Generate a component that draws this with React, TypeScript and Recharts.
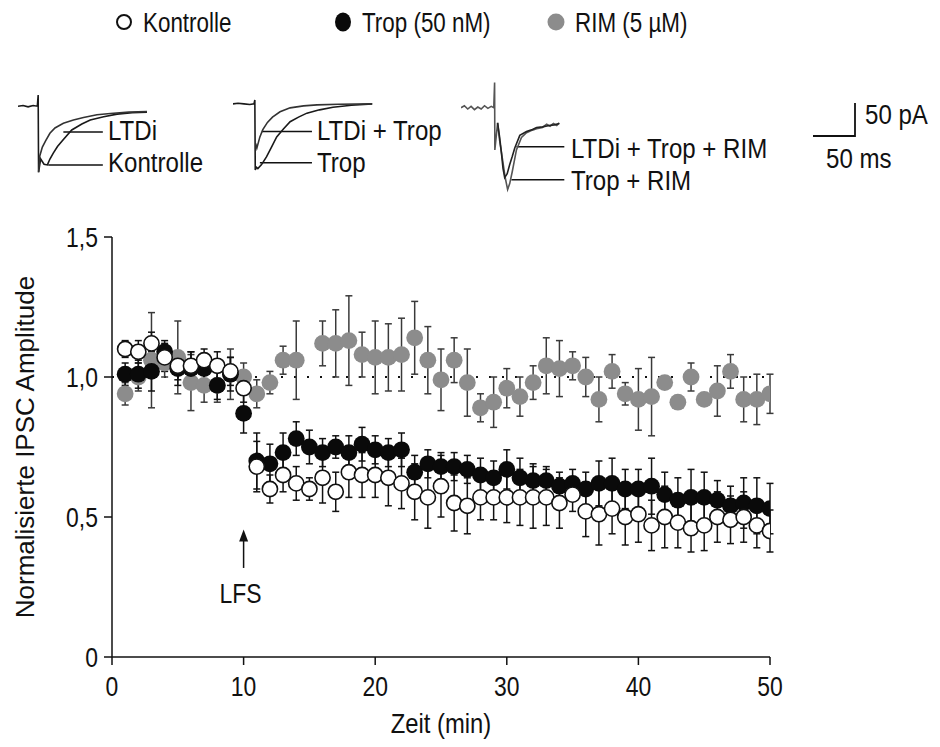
import React from 'react';
import { ScatterChart, Scatter, XAxis, YAxis, ErrorBar, ReferenceLine, Label, LineChart, Line } from 'recharts';

const FONT = '"Liberation Sans", Arial, Helvetica, sans-serif';
const INK = '#111111';
const GREY = '#8c8c8c';

// time points (min)
const minutes = [
  1, 2, 3, 4, 5, 6, 7, 8, 9, 10, 11, 12, 13, 14, 15, 16, 17, 18, 19, 20, 21, 22, 23, 24, 25,
  26, 27, 28, 29, 30, 31, 32, 33, 34, 35, 36, 37, 38, 39, 40, 41, 42, 43, 44, 45, 46, 47, 48, 49, 50,
];

// normalised IPSC amplitude, mean and SEM
const kontrolle = [
  1.10, 1.09, 1.12, 1.07, 1.04, 1.04, 1.06, 1.04, 1.02, 0.96, 0.68, 0.60, 0.65, 0.62, 0.60, 0.64, 0.59, 0.66, 0.65, 0.65, 0.64, 0.62, 0.59, 0.57, 0.61,
  0.55, 0.54, 0.57, 0.57, 0.57, 0.57, 0.57, 0.57, 0.55, 0.58, 0.52, 0.51, 0.53, 0.50, 0.51, 0.47, 0.50, 0.48, 0.46, 0.47, 0.50, 0.49, 0.50, 0.47, 0.45,
];
const kontrolleSem = [
  0.03, 0.04, 0.04, 0.05, 0.05, 0.05, 0.04, 0.05, 0.05, 0.05, 0.09, 0.05, 0.06, 0.06, 0.04, 0.09, 0.07, 0.09, 0.08, 0.08, 0.10, 0.09, 0.10, 0.11, 0.11,
  0.10, 0.10, 0.08, 0.08, 0.09, 0.10, 0.11, 0.10, 0.09, 0.06, 0.09, 0.11, 0.09, 0.10, 0.10, 0.09, 0.11, 0.09, 0.085, 0.09, 0.09, 0.085, 0.09, 0.08, 0.075,
];
const trop = [
  1.01, 1.01, 1.02, 1.09, 1.03, 1.03, 1.03, 0.97, 1.01, 0.87, 0.70, 0.69, 0.73, 0.78, 0.75, 0.73, 0.75, 0.73, 0.76, 0.74, 0.73, 0.74, 0.66, 0.69, 0.68,
  0.68, 0.67, 0.65, 0.64, 0.67, 0.64, 0.63, 0.63, 0.61, 0.62, 0.60, 0.62, 0.62, 0.60, 0.60, 0.61, 0.58, 0.56, 0.57, 0.57, 0.56, 0.54, 0.55, 0.54, 0.53,
];
const tropSem = [
  0.04, 0.05, 0.07, 0.04, 0.06, 0.06, 0.05, 0.05, 0.06, 0.07, 0.10, 0.07, 0.07, 0.06, 0.06, 0.05, 0.04, 0.06, 0.06, 0.05, 0.05, 0.06, 0.06, 0.05, 0.05,
  0.05, 0.05, 0.06, 0.06, 0.07, 0.07, 0.06, 0.05, 0.05, 0.05, 0.06, 0.08, 0.09, 0.07, 0.07, 0.10, 0.08, 0.08, 0.10, 0.09, 0.07, 0.07, 0.09, 0.10, 0.09,
];
const rim = [
  0.94, 1.00, 1.06, 1.05, 1.07, 0.98, 0.97, 0.97, 1.01, 1.00, 0.94, 0.98, 1.06, 1.06, null, 1.12, 1.12, 1.13, 1.08, 1.07, 1.07, 1.08, 1.14, 1.06, 0.99,
  1.06, 0.98, 0.89, 0.91, 0.96, 0.93, 0.98, 1.04, 1.03, 1.04, 1.00, 0.92, 1.02, 0.94, 0.92, 0.93, 0.98, 0.91, 1.00, 0.92, 0.95, 1.02, 0.92, 0.92, 0.94,
];
const rimSem = [
  0.04, 0.05, 0.17, 0.05, 0.13, 0.10, 0.06, 0.06, 0.09, 0.05, 0.05, 0.04, 0.05, 0.14, 0, 0.08, 0.12, 0.16, 0.08, 0.13, 0.12, 0.13, 0.13, 0.12, 0.11,
  0.08, 0.12, 0.05, 0.09, 0.07, 0.07, 0.06, 0.10, 0.10, 0.05, 0.07, 0.08, 0.06, 0.04, 0.11, 0.14, 0, 0, 0.05, 0, 0.09, 0.06, 0.08, 0.09, 0.07,
];

const xTicks = [0, 10, 20, 30, 40, 50];
const yTicks = [0, 0.5, 1, 1.5];
const lfsMinute = 10;

// example current traces (t in ms after stimulus, i in pA)
const kontrolleTraceT = [-24, -18, -12, -6, -1, 0, 0.5, 3, 7, 11, 14, 18, 23, 29, 40, 52, 62, 78, 94, 112, 130];
const kontrolleTraceI = [0, 1, -1, 1, 0, 17, -100, -80, -88, -89, -80, -71, -61, -52, -36, -27, -21, -16, -12, -10, -9];
const ltdiTraceT = [0.5, 2, 5, 9, 14, 20, 30, 42, 54, 70, 86, 108, 130];
const ltdiTraceI = [-100, -75, -62, -52, -41, -33, -26, -21, -17, -13, -11, -9, -8];

const tropTraceT = [-26, -20, -13, -6, -1, 0, 0.5, 2, 3.6, 8, 14, 20, 26, 34, 42, 52, 62, 77, 93, 115, 140];
const tropTraceI = [0, 1, 0, -1, 0, 6, -100, -96, -98, -92, -80, -65, -50, -38, -27, -20, -14, -9, -5, -2, 0];
const ltdiTropTraceT = [1, 2.4, 6, 9.5, 15, 21, 30, 42, 58, 74, 100, 140];
const ltdiTropTraceI = [-60, -67, -50, -39, -28, -20, -12, -6, -3, -1.5, -0.5, 0];

const tropRimTraceT = [-40, -36, -32, -28, -24, -20, -16, -12, -8, -4, -1, 0, 0.3, 3.6, 6, 9.5, 12.5, 15.5, 18, 21, 26, 32, 38, 45, 50, 57, 62, 66, 70, 74, 77];
const tropRimTraceI = [0, 3, -2, 2, -3, 1, -2, 3, -1, 2, 0, 38, -64, -23, -50, -79, -105, -124, -115, -97, -64, -45, -38, -34, -32, -30, -25, -28, -24, -27, -23];
const ltdiTropRimTraceT = [3.6, 6, 8, 10, 12, 15, 18, 21, 24, 30, 38, 45, 50, 57, 65, 71, 77];
const ltdiTropRimTraceI = [-23, -45, -67, -92, -106, -100, -86, -74, -61, -42, -36, -33, -30, -29, -27, -26, -24];

const PX_PER_MS = 0.84;
const PX_PER_PA = 0.66;

const zip = (t: number[], i: number[]) => t.map((tt, k) => ({ t: tt, i: i[k] }));

const buildSeries = (vals: (number | null)[], sems: number[]) =>
  minutes
    .map((m, k) => ({ m, v: vals[k], e: sems[k] }))
    .filter(d => d.v !== null);

const kontrolleData = buildSeries(kontrolle, kontrolleSem);
const tropData = buildSeries(trop, tropSem);
const rimData = buildSeries(rim, rimSem);

const fmtY = (v: number) => (v === 0 ? '0' : v.toFixed(1).replace('.', ','));

const XTick = ({ x, y, payload }: any) => (
  <text transform={`translate(${x},${y + 29}) scale(0.85,1)`} textAnchor="middle" fontSize={27} fontFamily={FONT} fill={INK}>
    {payload.value}
  </text>
);

const YTick = ({ x, y, payload }: any) => (
  <text transform={`translate(${x},${y + 10}) scale(0.85,1)`} textAnchor="end" fontSize={27} fontFamily={FONT} fill={INK}>
    {fmtY(payload.value)}
  </text>
);

const OpenDot = ({ cx, cy }: any) => <circle cx={cx} cy={cy} r={7.6} fill="#fff" stroke={INK} strokeWidth={1.6} />;
const BlackDot = ({ cx, cy }: any) => <circle cx={cx} cy={cy} r={8.4} fill="#0a0a0a" />;
const GreyDot = ({ cx, cy }: any) => <circle cx={cx} cy={cy} r={8.4} fill={GREY} />;

const LfsArrow = ({ x1, y1, x2, y2 }: any) => {
  const top = Math.min(y1, y2);
  const bottom = Math.max(y1, y2);
  return (
    <g>
      <line x1={x1} y1={bottom} x2={x1} y2={top + 10} stroke={INK} strokeWidth={1.5} />
      <polygon points={`${x1},${top} ${x1 - 4.5},${top + 12} ${x1 + 4.5},${top + 12}`} fill={INK} />
      <text transform={`translate(${x1 - 3},${bottom + 35}) scale(0.85,1)`} textAnchor="middle" fontSize={27} fontFamily={FONT} fill={INK}>
        LFS
      </text>
    </g>
  );
};

interface TraceSpec {
  data: { t: number; i: number }[];
  color: string;
}
interface Leader {
  i: number;
  t0: number;
  t1: number;
}

const TraceInset: React.FC<{
  stimX: number;
  baseY: number;
  tDomain: [number, number];
  iDomain: [number, number];
  traces: TraceSpec[];
  leaders: Leader[];
}> = ({ stimX, baseY, tDomain, iDomain, traces, leaders }) => {
  const width = (tDomain[1] - tDomain[0]) * PX_PER_MS;
  const height = (iDomain[1] - iDomain[0]) * PX_PER_PA;
  const left = stimX + tDomain[0] * PX_PER_MS;
  const top = baseY - iDomain[1] * PX_PER_PA;
  return (
    <div style={{ position: 'absolute', left, top }}>
      <LineChart width={width} height={height} margin={{ top: 0, right: 0, bottom: 0, left: 0 }}>
        <XAxis type="number" dataKey="t" domain={tDomain} hide allowDataOverflow />
        <YAxis type="number" dataKey="i" domain={iDomain} hide allowDataOverflow />
        {leaders.map((l, k) => (
          <ReferenceLine key={'l' + k} segment={[{ x: l.t0, y: l.i }, { x: l.t1, y: l.i }]} stroke={INK} strokeWidth={1.5} />
        ))}
        {traces.map((tr, k) => (
          <Line
            key={k}
            data={tr.data}
            dataKey="i"
            type="linear"
            stroke={tr.color}
            strokeWidth={1.6}
            dot={false}
            isAnimationActive={false}
          />
        ))}
      </LineChart>
    </div>
  );
};

const Txt: React.FC<{ x: number; y: number; size?: number; sx?: number; children: React.ReactNode }> = ({ x, y, size = 28, sx = 0.86, children }) => (
  <text transform={`translate(${x},${y}) scale(${sx},1)`} fontSize={size} fontFamily={FONT} fill={INK}>
    {children}
  </text>
);

export default function App() {
  return (
    <div style={{ position: 'relative', width: 940, height: 747, background: '#fff', overflow: 'hidden' }}>
      <style>{'body{margin:0}'}</style>

      <div style={{ position: 'absolute', left: 0, top: 0 }}>
        <ScatterChart width={940} height={747} margin={{ top: 237, right: 170, bottom: 30, left: 13 }}>
          <XAxis
            type="number"
            dataKey="m"
            domain={[0, 50]}
            ticks={xTicks}
            tick={<XTick />}
            tickSize={8}
            height={60}
            stroke={INK}
            strokeWidth={1.5}
            allowDataOverflow
          >
            <Label
              content={({ viewBox }: any) => (
                <text
                  transform={`translate(${viewBox.x + viewBox.width / 2},${viewBox.y + 76}) scale(0.85,1)`}
                  textAnchor="middle"
                  fontSize={28}
                  fontFamily={FONT}
                  fill={INK}
                >
                  Zeit (min)
                </text>
              )}
            />
          </XAxis>
          <YAxis
            type="number"
            dataKey="v"
            domain={[0, 1.5]}
            ticks={yTicks}
            tick={<YTick />}
            tickSize={8}
            tickMargin={6}
            width={99}
            stroke={INK}
            strokeWidth={1.5}
            allowDataOverflow
          >
            <Label
              value="Normalisierte IPSC Amplitude"
              angle={-90}
              position="insideLeft"
              offset={12}
              style={{ textAnchor: 'middle', fontSize: 26, fontFamily: FONT, fill: INK }}
            />
          </YAxis>
          <ReferenceLine y={1} stroke={INK} strokeWidth={2.2} strokeDasharray="2 11" />
          <ReferenceLine
            segment={[{ x: lfsMinute, y: 0.318 }, { x: lfsMinute, y: 0.455 }]}
            shape={<LfsArrow />}
          />
          <Scatter name="RIM (5 µM)" data={rimData} shape={<GreyDot />} isAnimationActive={false}>
            <ErrorBar dataKey="e" direction="y" width={3.5} stroke="#3a3a3a" strokeWidth={1.5} />
          </Scatter>
          <Scatter name="Trop (50 nM)" data={tropData} shape={<BlackDot />} isAnimationActive={false}>
            <ErrorBar dataKey="e" direction="y" width={3.5} stroke={INK} strokeWidth={1.5} />
          </Scatter>
          <Scatter name="Kontrolle" data={kontrolleData} shape={<OpenDot />} isAnimationActive={false}>
            <ErrorBar dataKey="e" direction="y" width={3.5} stroke={INK} strokeWidth={1.5} />
          </Scatter>
        </ScatterChart>
      </div>

      <TraceInset
        stimX={38}
        baseY={106}
        tDomain={[-24, 130]}
        iDomain={[-110, 20]}
        traces={[
          { data: zip(kontrolleTraceT, kontrolleTraceI), color: '#1a1a1a' },
          { data: zip(ltdiTraceT, ltdiTraceI), color: '#333' },
        ]}
        leaders={[
          { i: -39, t0: 30, t1: 77 },
          { i: -89, t0: 12, t1: 77 },
        ]}
      />
      <TraceInset
        stimX={255}
        baseY={104}
        tDomain={[-26, 140]}
        iDomain={[-110, 15]}
        traces={[
          { data: zip(tropTraceT, tropTraceI), color: '#1a1a1a' },
          { data: zip(ltdiTropTraceT, ltdiTropTraceI), color: '#333' },
        ]}
        leaders={[
          { i: -42, t0: 8.3, t1: 68 },
          { i: -89, t0: 6, t1: 68 },
        ]}
      />
      <TraceInset
        stimX={495}
        baseY={108}
        tDomain={[-40, 85]}
        iDomain={[-135, 45]}
        traces={[
          { data: zip(tropRimTraceT, tropRimTraceI), color: '#555' },
          { data: zip(ltdiTropRimTraceT, ltdiTropRimTraceI), color: '#222' },
        ]}
        leaders={[
          { i: -59, t0: 26, t1: 83 },
          { i: -109, t0: 20, t1: 83 },
        ]}
      />

      <svg width={940} height={747} style={{ position: 'absolute', left: 0, top: 0, pointerEvents: 'none' }}>
        {/* legend */}
        <circle cx={124} cy={22} r={7} fill="#fff" stroke={INK} strokeWidth={2} />
        <Txt x={143} y={32} sx={0.8}>Kontrolle</Txt>
        <ellipse cx={343} cy={22} rx={8} ry={9.5} fill="#0a0a0a" />
        <Txt x={362} y={32} sx={0.8}>Trop (50 nM)</Txt>
        <circle cx={556} cy={22} r={8.5} fill={GREY} />
        <Txt x={575} y={32} sx={0.8}>RIM (5 µM)</Txt>

        {/* trace labels */}
        <Txt x={108} y={140}>LTDi</Txt>
        <Txt x={108} y={172}>Kontrolle</Txt>
        <Txt x={317} y={140}>LTDi + Trop</Txt>
        <Txt x={317} y={172}>Trop</Txt>
        <Txt x={571} y={158}>LTDi + Trop + RIM</Txt>
        <Txt x={571} y={190}>Trop + RIM</Txt>

        {/* scale bar: 50 pA / 50 ms */}
        <polyline points="813,136 855,136 855,103" fill="none" stroke={INK} strokeWidth={1.8} />
        <Txt x={865} y={124}>50 pA</Txt>
        <Txt x={826} y={168}>50 ms</Txt>
      </svg>
    </div>
  );
}
